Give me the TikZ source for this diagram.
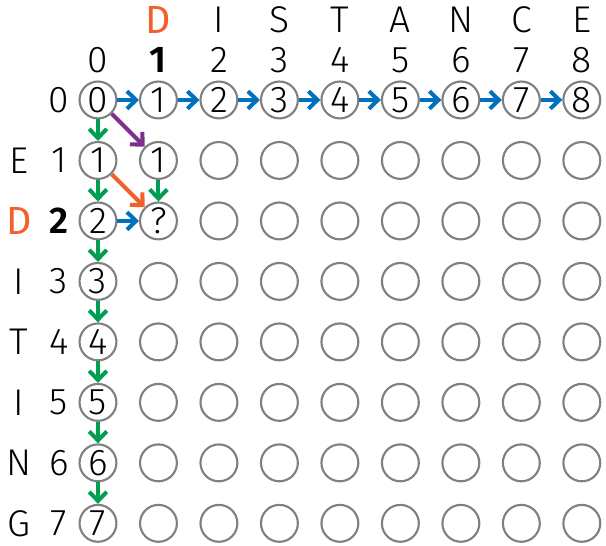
\documentclass[tikz,border=0pt]{standalone}
\usepackage{fontspec}
\setmainfont{Fira Sans}[UprightFont=* Light, BoldFont=* SemiBold]
\newfontfamily\markfont{Fira Sans}
\usetikzlibrary{arrows.meta}
\definecolor{ringgray}{RGB}{128,128,128}
\definecolor{stepblue}{RGB}{0,114,189}
\definecolor{stepgreen}{RGB}{0,158,81}
\definecolor{steppurple}{RGB}{126,47,142}
\definecolor{steporange}{RGB}{242,96,44}
\tikzset{
cellnode/.style={circle, draw=ringgray, line width=1pt, minimum size=0.61cm, inner sep=0pt, font=\fontsize{17.5}{20}\selectfont},
labelnode/.style={inner sep=0pt, font=\fontsize{17.5}{20}\selectfont},
marknode/.style={inner sep=0pt, text=steporange, font=\fontsize{18.5}{20}\markfont},
movearrow/.style={-{Straight Barb[length=1.5mm, width=2.9mm]}, line width=1.9pt}
}
\begin{document}
\begin{tikzpicture}
\useasboundingbox (-1.62,-7.37) rectangle (8.40,1.653);

% grid of cells
\foreach \i in {0,...,8} \node[cellnode] (c-\i-0) at (\i,0) {\i};
\foreach \j in {1,...,7} \node[cellnode] (c-0-\j) at (0,-\j) {\j};
\node[cellnode] (c-1-1) at (1,-1) {1};
\node[cellnode] (c-1-2) at (1,-2) {?};
\foreach \j in {3,...,7} \node[cellnode] (c-1-\j) at (1,-\j) {};
\foreach \i in {2,...,8} \foreach \j in {1,...,7} \node[cellnode] (c-\i-\j) at (\i,-\j) {};

% column headers
\node[marknode] (top-1) at (1,1.32) {D};
\foreach \l [count=\i from 2] in {I,S,T,A,N,C,E} \node[labelnode] (top-\i) at (\i,1.32) {\l};
\foreach \i in {0,2,3,4,5,6,7,8} \node[labelnode] (num-\i) at (\i,0.66) {\i};
\node[labelnode] (num-1) at (1,0.66) {\bfseries 1};

% row headers
\node[labelnode] (side-1) at (-1.31,-1) {E};
\node[marknode] (side-2) at (-1.31,-2) {D};
\foreach \l [count=\j from 3] in {I,T,I,N,G} \node[labelnode] (side-\j) at (-1.31,-\j) {\l};
\foreach \j in {0,1,3,4,5,6,7} \node[labelnode] (row-\j) at (-0.645,-\j) {\j};
\node[labelnode] (row-2) at (-0.645,-2) {\bfseries 2};

% arrows
\foreach \i in {0,...,7} {
  \pgfmathtruncatemacro\k{\i+1}
  \draw[movearrow, stepblue] (c-\i-0) -- (c-\k-0);
}
\foreach \j in {0,...,6} {
  \pgfmathtruncatemacro\k{\j+1}
  \draw[movearrow, stepgreen] (c-0-\j) -- (c-0-\k);
}
\draw[movearrow, stepgreen] (c-1-1) -- (c-1-2);
\draw[movearrow, stepblue] (c-0-2) -- (c-1-2);
\draw[movearrow, steppurple] (c-0-0) -- (c-1-1);
\draw[movearrow, steporange] (c-0-1) -- (c-1-2);
\end{tikzpicture}
\end{document}
